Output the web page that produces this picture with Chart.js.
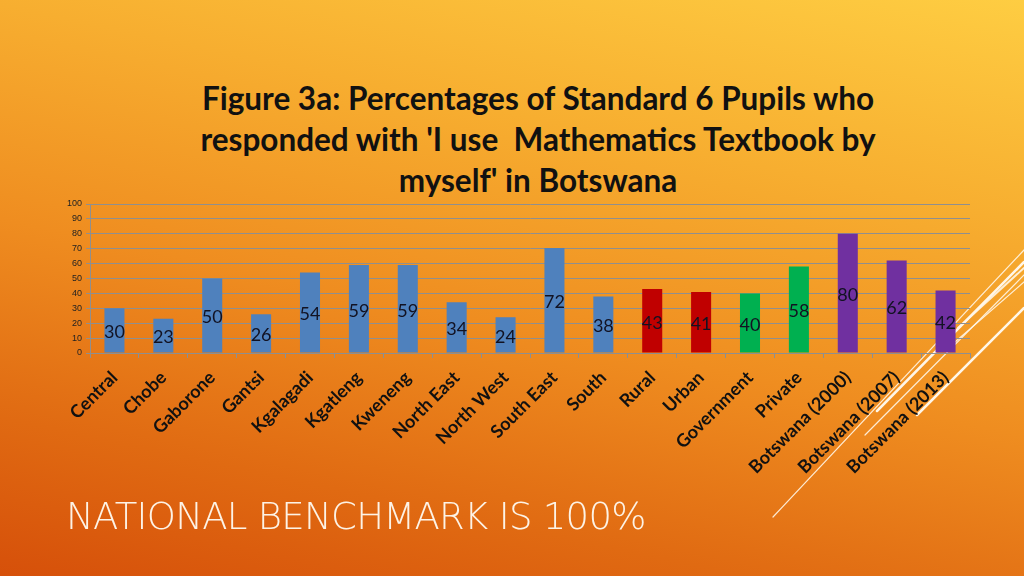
<!DOCTYPE html>
<html>
<head>
<meta charset="utf-8">
<script src="https://cdn.jsdelivr.net/npm/chart.js@4.4.1/dist/chart.umd.min.js"></script>
<style>
  html, body { margin:0; padding:0; width:1024px; height:576px; overflow:hidden; }
  body {
    background: linear-gradient(192deg, #fecd42 0%, #f7ae30 28%, #ef8d20 55%, #e06a12 80%, #d6500a 100%);
    position: relative;
  }
  #title {
    position:absolute; left:138px; width:800px; top:78px;
    text-align:center; font-family: Lato, "Open Sans", sans-serif; font-weight:700;
    font-size:31.5px; line-height:41px; color:#111;
  }
  #footer {
    position:absolute; left:66px; top:495px;
    font-family: "DejaVu Sans", sans-serif; font-weight:200;
    font-size:37px; color:#fdf3e6; white-space:nowrap; letter-spacing:-0.7px;
  }
  #deco { position:absolute; left:0; top:0; }
  #wrap { position:absolute; left:0; top:0; width:1024px; height:576px; }
</style>
</head>
<body>
<svg id="deco" width="1024" height="576">
  <g stroke="#fff6e8" fill="none" stroke-linecap="round">
    <line x1="773" y1="517" x2="1024" y2="250" stroke-width="1.2" opacity="0.9"/>
    <line x1="865" y1="435" x2="1024" y2="275" stroke-width="1.2" opacity="0.9"/>
    <line x1="877" y1="411" x2="1024" y2="262" stroke-width="2.5"/>
    <line x1="917" y1="415" x2="1024" y2="308" stroke-width="2.5"/>
    <line x1="955" y1="342" x2="1024" y2="282" stroke-width="1.2" opacity="0.9"/>
    <line x1="958" y1="328" x2="1024" y2="268" stroke-width="2" opacity="0.9"/>
  </g>
</svg>
<div id="title">Figure 3a: Percentages of Standard 6 Pupils who<br>responded with 'I use&nbsp; Mathematics Textbook by<br>myself' in Botswana</div>
<div id="wrap"><canvas id="c" width="1024" height="576"></canvas></div>
<div id="footer">NATIONAL BENCHMARK IS 100%</div>
<script>
const categories = ["Central","Chobe","Gaborone","Gantsi","Kgalagadi","Kgatleng","Kweneng","North East","North West","South East","South","Rural","Urban","Government","Private","Botswana (2000)","Botswana (2007)","Botswana (2013)"];
const values = [30,23,50,26,54,59,59,34,24,70.5,38,43,41,40,58,80,62,42];
const valueLabels = ["30","23","50","26","54","59","59","34","24","72","38","43","41","40","58","80","62","42"];
const groups = ["region","region","region","region","region","region","region","region","region","region","region","location","location","school","school","year","year","year"];
const yTicks = [0,10,20,30,40,50,60,70,80,90,100];

const groupColors = { region:"#4f81bd", location:"#c00000", school:"#00b050", year:"#7030a0" };

const labelPlugin = {
  id: "valueLabels",
  afterDatasetsDraw(chart) {
    const ctx = chart.ctx;
    const meta = chart.getDatasetMeta(0);
    ctx.save();
    ctx.font = "18px Lato, 'Open Sans', sans-serif";
    ctx.fillStyle = "#121222";
    ctx.textAlign = "center";
    ctx.textBaseline = "middle";
    meta.data.forEach((bar, i) => {
      const y = (bar.y + bar.base) / 2 + 2;
      ctx.fillText(valueLabels[i], bar.x, y);
    });
    ctx.restore();
  }
};

new Chart(document.getElementById("c"), {
  type: "bar",
  data: {
    labels: categories,
    datasets: [{
      data: values,
      backgroundColor: groups.map(g => groupColors[g]),
      barPercentage: 0.41,
      categoryPercentage: 1.0
    }]
  },
  options: {
    responsive: false,
    animation: false,
    layout: { padding: { top: 204, left: 40, right: 54, bottom: 0 } },
    plugins: { legend: { display: false }, tooltip: { enabled: false } },
    scales: {
      x: {
        afterFit(scale) { scale.height = 576 - 353; scale.paddingLeft = 0; scale.paddingRight = 0; },
        grid: { display: true, drawOnChartArea: false, offset: true, tickLength: 5, color: "#8f8f8f" },
        border: { display: true, color: "#8f8f8f" },
        ticks: {
          minRotation: 45, maxRotation: 45, autoSkip: false,
          color: "#111", padding: 9,
          font: { family: "Lato, 'Open Sans', sans-serif", size: 18, weight: "bold" }
        }
      },
      y: {
        min: 0, max: 100,
        afterFit(scale) { scale.width = 50; },
        afterBuildTicks(scale) { scale.ticks = yTicks.map(v => ({ value: v })); },
        grid: { color: "#8f8f8f", tickLength: 4 },
        border: { display: true, color: "#8f8f8f" },
        ticks: {
          color: "#222", padding: 4,
          font: { family: "'Liberation Sans', sans-serif", size: 9 }
        }
      }
    }
  },
  plugins: [labelPlugin]
});
</script>
</body>
</html>
